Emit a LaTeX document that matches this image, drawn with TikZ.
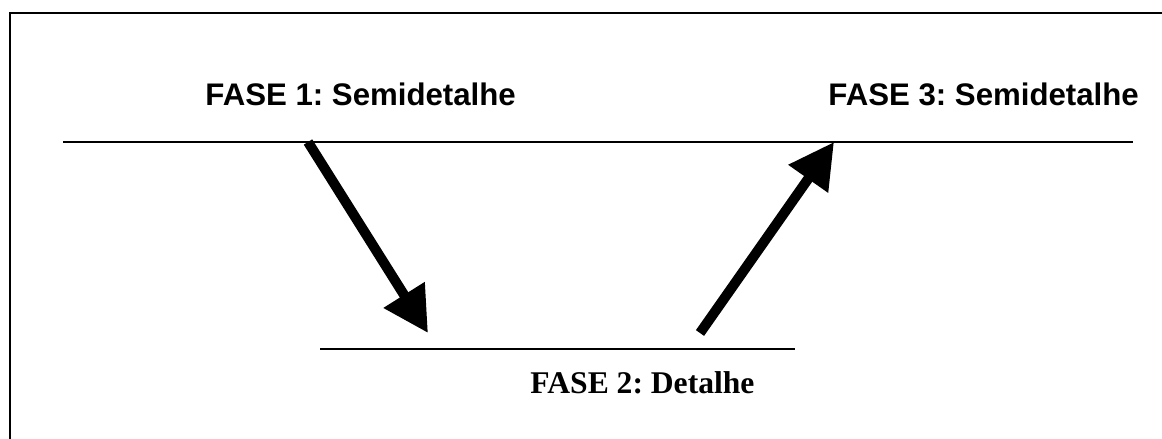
\documentclass[tikz,border=0pt]{standalone}
\usepackage{fontspec}
\setmainfont{Liberation Serif}
\newfontfamily\arialfont{Liberation Sans}
\usetikzlibrary{positioning}
\usetikzlibrary{arrows.meta}
\frenchspacing

\tikzset{
  level/.style={line width=1pt},
  sanslabel/.style={anchor=base west, inner sep=0pt, font=\arialfont\bfseries\fontsize{15.6}{18}\selectfont},
  seriflabel/.style={anchor=base west, inner sep=0pt, font=\bfseries\fontsize{15.8}{18}\selectfont},
  bigarrow/.style={-{Triangle[length=22.5pt, width=23pt]}, line width=5pt}
}

\begin{document}
\begin{tikzpicture}[x=0.5pt, y=-0.5pt]
  \useasboundingbox (0,0) rectangle (1162,439);
  % frame
  \draw[line width=1pt] (9.5,439) -- (9.5,13) -- (1162,13);
  % phase levels
  \draw[level] (63,141.5) -- (1133,141.5);
  \draw[level] (320,349) -- (795,349);
  % labels
  \node (fase1) [sanslabel] at (205,105) {FASE 1: Semidetalhe};
  \node (fase3) [sanslabel] at (828,105) {FASE 3: Semidetalhe};
  \node (fase2) [seriflabel] at (530,393) {FASE 2: Detalhe};
  % arrow ends
  \coordinate (down1) at (308,142);
  \coordinate (down2) at (428,333);
  \coordinate (up1) at (700,333);
  \coordinate (up2) at (834,142);
  \draw[bigarrow] (down1) -- (down2);
  \draw[bigarrow] (up1) -- (up2);
\end{tikzpicture}
\end{document}
